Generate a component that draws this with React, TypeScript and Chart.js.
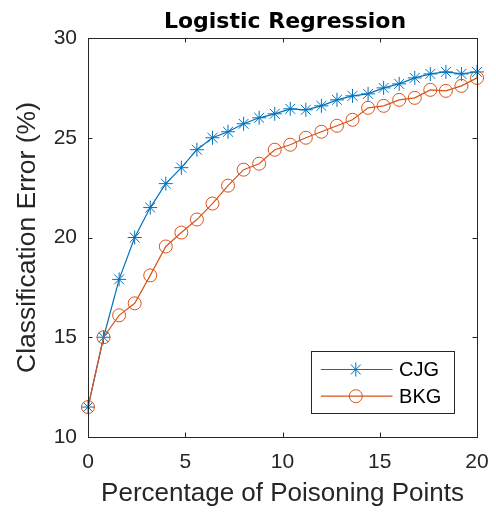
import React, { useEffect, useRef } from "react";
import { Chart, registerables } from "chart.js";
import { drawPoint } from "chart.js/helpers";

Chart.register(...registerables);

const xPoints = [0, 0.8, 1.6, 2.4, 3.2, 4.0, 4.8, 5.6, 6.4, 7.2, 8.0, 8.8, 9.6, 10.4, 11.2, 12.0, 12.8, 13.6, 14.4, 15.2, 16.0, 16.8, 17.6, 18.4, 19.2, 20];
const cjgValues = [11.5, 15.0, 17.9, 20.0, 21.5, 22.7, 23.5, 24.4, 25.0, 25.3, 25.7, 26.0, 26.2, 26.45, 26.4, 26.6, 26.9, 27.1, 27.2, 27.5, 27.7, 28.0, 28.2, 28.3, 28.2, 28.3];
const bkgValues = [11.5, 15.0, 16.1, 16.7, 18.1, 19.55, 20.25, 20.9, 21.7, 22.6, 23.4, 23.7, 24.4, 24.65, 25.0, 25.3, 25.6, 25.9, 26.5, 26.6, 26.9, 27.0, 27.4, 27.35, 27.6, 28.0];
const xTicks = [0, 5, 10, 15, 20];
const yTicks = [10, 15, 20, 25, 30];
const seriesNames = ["CJG", "BKG"];
const chartTitle = "Logistic Regression";

const AXIS_COLOR = "#262626";
const TICK_FONT = "Liberation Sans";

const framePlugin = {
  id: "frame",
  afterDraw(chart: any) {
    const { ctx, chartArea: a } = chart;
    const xs = chart.scales.x;
    const ys = chart.scales.y;
    const tl = 4.5;
    ctx.save();

    // title
    ctx.fillStyle = "#000000";
    ctx.font = `bold 22px "DejaVu Sans"`;
    ctx.textAlign = "center";
    ctx.textBaseline = "alphabetic";
    ctx.fillText(chartTitle, (a.left + a.right) / 2 + 2.5, a.top - 10.5);

    // box + inward ticks
    ctx.strokeStyle = AXIS_COLOR;
    ctx.lineWidth = 1;
    ctx.strokeRect(Math.round(a.left) + 0.5, Math.round(a.top) + 0.5, Math.round(a.right - a.left), Math.round(a.bottom - a.top));
    ctx.beginPath();
    xs.ticks.forEach((t: any) => {
      const px = Math.round(xs.getPixelForValue(t.value)) + 0.5;
      ctx.moveTo(px, a.bottom);
      ctx.lineTo(px, a.bottom - tl);
      ctx.moveTo(px, a.top);
      ctx.lineTo(px, a.top + tl);
    });
    ys.ticks.forEach((t: any) => {
      const py = Math.round(ys.getPixelForValue(t.value)) + 0.5;
      ctx.moveTo(a.left, py);
      ctx.lineTo(a.left + tl, py);
      ctx.moveTo(a.right, py);
      ctx.lineTo(a.right - tl, py);
    });
    ctx.stroke();

    // legend
    const bx = Math.round(a.right - 166.3) + 0.5;
    const by = Math.round(a.bottom - 86) + 0.5;
    const bw = 142.6;
    const bh = 62.3;
    ctx.fillStyle = "#ffffff";
    ctx.fillRect(bx, by, bw, bh);
    ctx.strokeStyle = AXIS_COLOR;
    ctx.lineWidth = 1;
    ctx.strokeRect(bx, by, Math.round(bw), Math.round(bh));
    const rows = [by + 18, by + 44.7];
    chart.data.datasets.forEach((ds: any, i: number) => {
      const y = rows[i];
      ctx.strokeStyle = ds.borderColor;
      ctx.lineWidth = ds.borderWidth;
      ctx.beginPath();
      ctx.moveTo(bx + 9.3, y);
      ctx.lineTo(bx + 81, y);
      ctx.stroke();
      ctx.fillStyle = "rgba(0,0,0,0)";
      ctx.strokeStyle = ds.pointBorderColor;
      ctx.lineWidth = ds.pointBorderWidth;
      drawPoint(ctx, { pointStyle: ds.pointStyle, rotation: 0, radius: ds.pointRadius, borderWidth: ds.pointBorderWidth }, bx + 44.3, y);
      ctx.fillStyle = "#000000";
      ctx.font = `20px "${TICK_FONT}"`;
      ctx.textBaseline = "middle";
      ctx.textAlign = "left";
      ctx.fillText(ds.label, bx + 87.6, y + 1);
    });
    ctx.restore();
  },
};

export default function App() {
  const ref = useRef<HTMLCanvasElement | null>(null);

  useEffect(() => {
    if (!ref.current) return;
    const chart = new Chart(ref.current, {
      type: "line",
      data: {
        datasets: [
          {
            label: seriesNames[0],
            data: xPoints.map((x, i) => ({ x, y: cjgValues[i] })),
            borderColor: "#0072BD",
            backgroundColor: "rgba(0,0,0,0)",
            borderWidth: 1.2,
            pointStyle: "star",
            pointRadius: 7,
            pointBorderWidth: 1,
            pointBorderColor: "#0072BD",
            pointBackgroundColor: "rgba(0,0,0,0)",
            tension: 0,
            clip: false,
            order: 1,
          },
          {
            label: seriesNames[1],
            data: xPoints.map((x, i) => ({ x, y: bkgValues[i] })),
            borderColor: "#D95319",
            backgroundColor: "rgba(0,0,0,0)",
            borderWidth: 1.2,
            pointStyle: "circle",
            pointRadius: 6.5,
            pointBorderWidth: 1,
            pointBorderColor: "#D95319",
            pointBackgroundColor: "rgba(0,0,0,0)",
            tension: 0,
            clip: false,
            order: 0,
          },
        ],
      },
      options: {
        animation: false,
        responsive: false,
        devicePixelRatio: 1,
        events: [],
        layout: { padding: { left: 0, right: 19, top: 38, bottom: 0 } },
        plugins: {
          legend: { display: false },
          tooltip: { enabled: false },
          title: { display: false },
        },
        scales: {
          x: {
            type: "linear",
            min: 0,
            max: 20,
            afterBuildTicks: (s: any) => {
              s.ticks = xTicks.map((v) => ({ value: v }));
            },
            afterFit: (s: any) => {
              s.height = 79;
              s.paddingLeft = 0;
              s.paddingRight = 0;
            },
            grid: { display: false, drawTicks: false },
            border: { display: false },
            ticks: {
              color: AXIS_COLOR,
              font: { family: TICK_FONT, size: 21 },
              padding: 13,
              maxRotation: 0,
              autoSkip: false,
            },
            title: {
              display: true,
              text: "Percentage of Poisoning Points",
              color: AXIS_COLOR,
              font: { family: TICK_FONT, size: 26, lineHeight: 1.2 },
              padding: { top: 0, bottom: 6.2 },
            },
          },
          y: {
            type: "linear",
            min: 10,
            max: 30,
            afterBuildTicks: (s: any) => {
              s.ticks = yTicks.map((v) => ({ value: v }));
            },
            afterFit: (s: any) => {
              s.width = 88;
              s.paddingTop = 0;
              s.paddingBottom = 0;
            },
            grid: { display: false, drawTicks: false },
            border: { display: false },
            ticks: {
              color: AXIS_COLOR,
              font: { family: TICK_FONT, size: 21 },
              padding: 11,
              autoSkip: false,
            },
            title: {
              display: true,
              text: "Classification Error (%)",
              color: AXIS_COLOR,
              font: { family: TICK_FONT, size: 26.5, lineHeight: 1.2 },
              padding: { top: 12.1, bottom: 0 },
            },
          },
        },
      },
      plugins: [framePlugin],
    });
    return () => chart.destroy();
  }, []);

  return (
    <div style={{ position: "absolute", left: 0, top: 0, width: 496, height: 516, background: "#ffffff" }}>
      <canvas ref={ref} width={496} height={516} style={{ display: "block" }} />
    </div>
  );
}
